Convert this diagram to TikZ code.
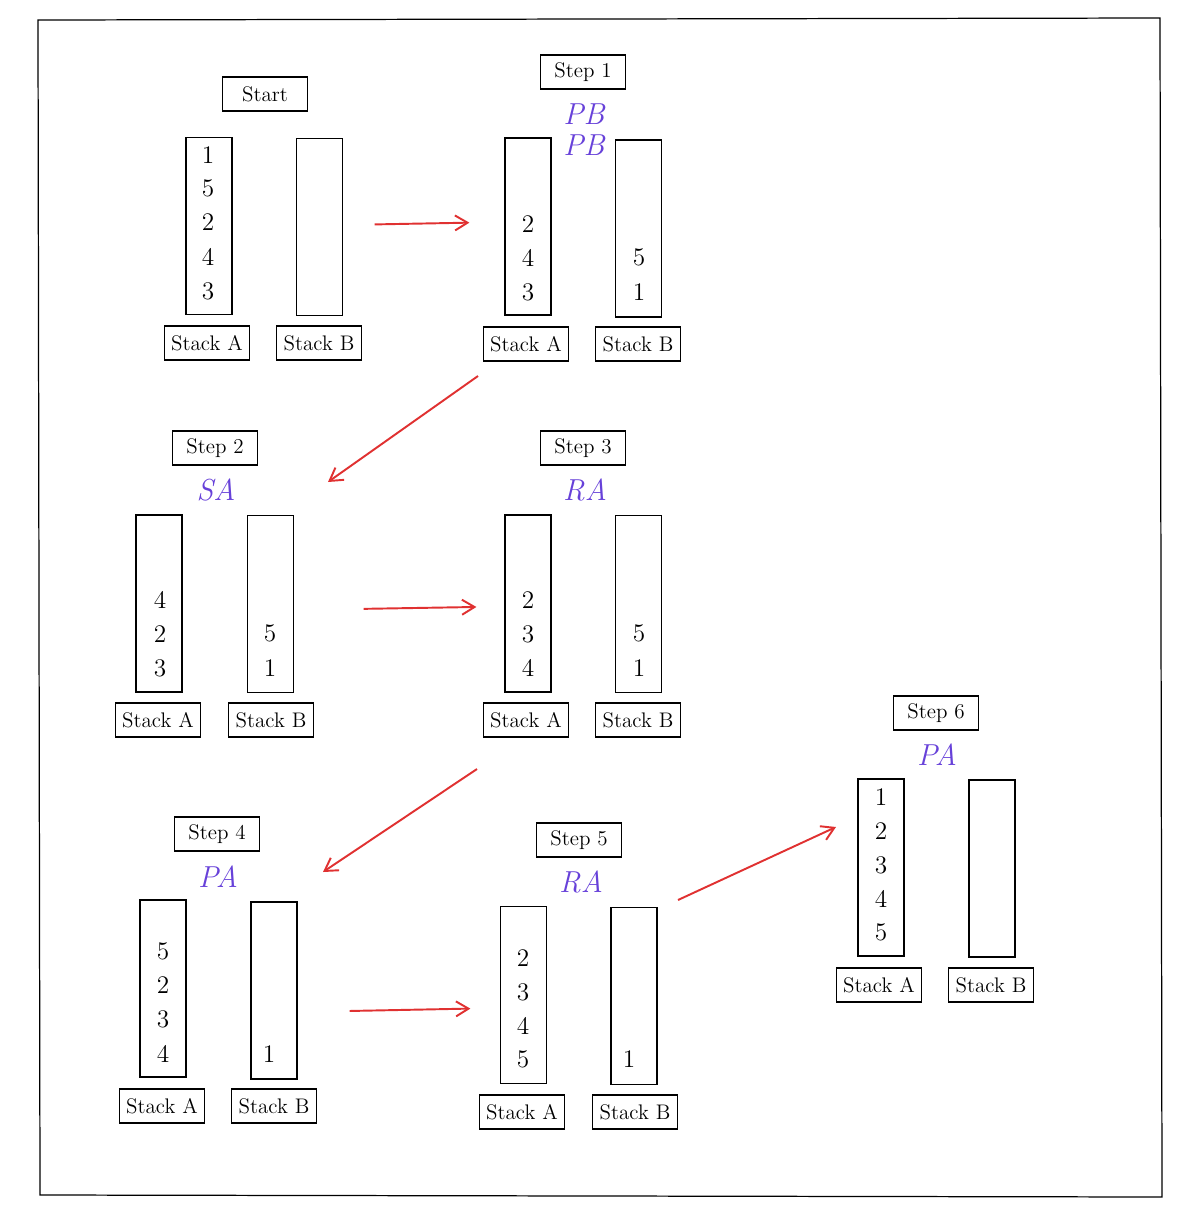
\documentclass[tikz,border=0pt]{standalone}
\usepackage{tikz}
\usetikzlibrary{arrows.meta}
\definecolor{opviolet}{HTML}{6741D9}
\definecolor{flowred}{HTML}{E03131}

\begin{document}
\begin{tikzpicture}[
            % ----- Styles -----
                col/.style={draw=black, line width=0.7pt,
                    minimum width=0.92cm, minimum height=3.54cm},
                tag/.style={draw=black, line width=0.7pt,
                    minimum width=1.7cm, minimum height=0.68cm, font=\large},
                op/.style={text=opviolet, font=\LARGE\itshape},
                num/.style={font=\Large},
                flow/.style={draw=flowred, line width=1.1pt,
                    -{Straight Barb[length=2.5mm, width=3mm]}}
            ]

                \useasboundingbox (0,0) rectangle (23.94,-24.18);

% ===================== Rahmen ==================================
                \draw[line width=0.7pt] (0.76,-0.40) -- (23.20,-0.36) -- (23.24,-23.94) -- (0.80,-23.90) -- cycle;

% ===================== Start ===================================
                \node[tag] (t0)  at (5.30, -1.88)  {Start};
                \node[col] (cA0) at (4.18, -4.52)  {};
                \node[col] (cB0) at (6.39, -4.54)  {};
                \node[tag] (lA0) at (4.14, -6.86)  {Stack A};
                \node[tag] (lB0) at (6.38, -6.86)  {Stack B};
                \node[num] (a01) at (4.16, -3.10)  {1};
                \node[num] (a02) at (4.16, -3.76)  {5};
                \node[num] (a03) at (4.16, -4.44)  {2};
                \node[num] (a04) at (4.16, -5.14)  {4};
                \node[num] (a05) at (4.16, -5.82)  {3};

% ===================== Step 1 ==================================
                \node[tag] (t1)  at (11.66, -1.44) {Step 1};
                \node[op]  (o1a) at (11.68, -2.28) {PB};
                \node[op]  (o1b) at (11.68, -2.90) {PB};
                \node[col] (cA1) at (10.56, -4.53) {};
                \node[col] (cB1) at (12.77, -4.57) {};
                \node[tag] (lA1) at (10.52, -6.88) {Stack A};
                \node[tag] (lB1) at (12.76, -6.88) {Stack B};
                \node[num] (a11) at (10.56, -4.48) {2};
                \node[num] (a12) at (10.56, -5.16) {4};
                \node[num] (a13) at (10.56, -5.84) {3};
                \node[num] (b11) at (12.78, -5.14) {5};
                \node[num] (b12) at (12.78, -5.84) {1};

% ===================== Step 2 ==================================
                \node[tag] (t2)  at (4.30, -8.96)  {Step 2};
                \node[op]  (o2)  at (4.32, -9.80)  {SA};
                \node[col] (cA2) at (3.18, -12.07) {};
                \node[col] (cB2) at (5.41, -12.08) {};
                \node[tag] (lA2) at (3.16, -14.40) {Stack A};
                \node[tag] (lB2) at (5.42, -14.40) {Stack B};
                \node[num] (a21) at (3.20, -12.00) {4};
                \node[num] (a22) at (3.20, -12.68) {2};
                \node[num] (a23) at (3.20, -13.36) {3};
                \node[num] (b21) at (5.40, -12.66) {5};
                \node[num] (b22) at (5.40, -13.36) {1};

% ===================== Step 3 ==================================
                \node[tag] (t3)  at (11.66, -8.96) {Step 3};
                \node[op]  (o3)  at (11.70, -9.80) {RA};
                \node[col] (cA3) at (10.56, -12.07) {};
                \node[col] (cB3) at (12.77, -12.08) {};
                \node[tag] (lA3) at (10.52, -14.40) {Stack A};
                \node[tag] (lB3) at (12.76, -14.40) {Stack B};
                \node[num] (a31) at (10.56, -12.00) {2};
                \node[num] (a32) at (10.56, -12.68) {3};
                \node[num] (a33) at (10.56, -13.36) {4};
                \node[num] (b31) at (12.78, -12.66) {5};
                \node[num] (b32) at (12.78, -13.36) {1};

% ===================== Step 4 ==================================
                \node[tag] (t4)  at (4.34, -16.68) {Step 4};
                \node[op]  (o4)  at (4.36, -17.54) {PA};
                \node[col] (cA4) at (3.26, -19.77) {};
                \node[col] (cB4) at (5.48, -19.81) {};
                \node[tag] (lA4) at (3.24, -22.12) {Stack A};
                \node[tag] (lB4) at (5.48, -22.12) {Stack B};
                \node[num] (a41) at (3.26, -19.02) {5};
                \node[num] (a42) at (3.26, -19.70) {2};
                \node[num] (a43) at (3.26, -20.38) {3};
                \node[num] (a44) at (3.26, -21.08) {4};
                \node[num] (b41) at (5.38, -21.08) {1};

% ===================== Step 5 ==================================
                \node[tag] (t5)  at (11.58, -16.80) {Step 5};
                \node[op]  (o5)  at (11.62, -17.64) {RA};
                \node[col] (cA5) at (10.47, -19.90) {};
                \node[col] (cB5) at (12.68, -19.92) {};
                \node[tag] (lA5) at (10.44, -22.24) {Stack A};
                \node[tag] (lB5) at (12.70, -22.24) {Stack B};
                \node[num] (a51) at (10.46, -19.16) {2};
                \node[num] (a52) at (10.46, -19.84) {3};
                \node[num] (a53) at (10.46, -20.52) {4};
                \node[num] (a54) at (10.46, -21.18) {5};
                \node[num] (b51) at (12.58, -21.18) {1};

% ===================== Step 6 ==================================
                \node[tag] (t6)  at (18.72, -14.26) {Step 6};
                \node[op]  (o6)  at (18.74, -15.10) {PA};
                \node[col] (cA6) at (17.62, -17.35) {};
                \node[col] (cB6) at (19.84, -17.37) {};
                \node[tag] (lA6) at (17.58, -19.70) {Stack A};
                \node[tag] (lB6) at (19.82, -19.70) {Stack B};
                \node[num] (a61) at (17.62, -15.94) {1};
                \node[num] (a62) at (17.62, -16.62) {2};
                \node[num] (a63) at (17.62, -17.30) {3};
                \node[num] (a64) at (17.62, -17.98) {4};
                \node[num] (a65) at (17.62, -18.64) {5};

% ===================== Pfeile ==================================
% horizontal: von Stack B zum naechsten Stack A
                \draw[flow, shorten <=0.63cm, shorten >=0.70cm]
                    ([yshift=0.04cm]cB0.east) -- ([yshift=0.09cm]cA1.west);
                \draw[flow, shorten <=1.39cm, shorten >=0.56cm]
                    ([yshift=-0.12cm]cB2.east) -- ([yshift=-0.06cm]cA3.west);
                \draw[flow, shorten <=1.04cm, shorten >=0.59cm]
                    ([yshift=-0.43cm]cB4.east) -- ([yshift=-0.26cm]cA5.west);

% diagonal: zurueck in die naechste Zeile
                \coordinate (d1s) at (9.56, -7.52);
                \coordinate (d1e) at (6.56, -9.64);
                \coordinate (d2s) at (9.54, -15.38);
                \coordinate (d2e) at (6.46, -17.44);
                \coordinate (d3s) at (13.56, -18.00);
                \coordinate (d3e) at (16.72, -16.54);
                \draw[flow] (d1s) -- (d1e);
                \draw[flow] (d2s) -- (d2e);
                \draw[flow] (d3s) -- (d3e);

            \end{tikzpicture}
\end{document}
